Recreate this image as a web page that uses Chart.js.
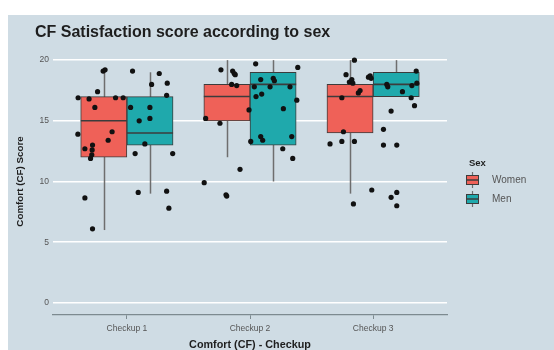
<!DOCTYPE html>
<html>
<head>
<meta charset="utf-8">
<script src="https://cdn.jsdelivr.net/npm/chart.js@4/dist/chart.umd.min.js"></script>
<style>
  html, body { margin: 0; padding: 0; background: #ffffff; }
  canvas { display: block; }
</style>
</head>
<body>
<canvas id="chart" width="554" height="350"></canvas>
<script>
const checkups = ['Checkup 1', 'Checkup 2', 'Checkup 3'];
const sexes = ['Women', 'Men'];
const yTicks = [0, 5, 10, 15, 20];

// Five-number summaries per checkup: [lower whisker, Q1, median, Q3, upper whisker]
const womenBoxes = [[6, 12, 15, 17, 19], [12, 15, 17, 18, 20], [9, 14, 17, 18, 20]];
const menBoxes   = [[9, 13, 14, 17, 19], [10, 13, 18, 19, 20], [17, 17, 18, 19, 20]];

// Individual comfort scores per checkup
const womenScores = [
  [19.1, 19.2, 17.4, 16.9, 16.8, 16.9, 16.9, 16.1, 13.9, 14.1, 13.4, 12.7, 13.0, 12.6, 12.2, 11.9, 8.65, 6.1],
  [19.2, 19.1, 18.9, 18.8, 18.0, 17.9, 15.9, 15.2, 14.8, 11.0, 9.9, 8.9, 8.8],
  [20.0, 18.8, 18.2, 18.4, 18.1, 16.9, 17.3, 17.5, 14.1, 13.1, 13.3, 13.3, 8.15, 9.3]
];
// Horizontal jitter of each score from its checkup centre (category units)
const womenJitter = [
  [-0.193, -0.177, -0.238, -0.396, -0.307, -0.092, -0.030, -0.260, -0.398, -0.120, -0.152, -0.341, -0.279, -0.282, -0.285, -0.295, -0.341, -0.279],
  [-0.236, -0.141, -0.128, -0.120, -0.149, -0.108, -0.008, -0.360, -0.244, -0.081, -0.372, -0.195, -0.189],
  [-0.152, -0.220, -0.193, -0.173, -0.165, -0.254, -0.120, -0.106, -0.241, -0.350, -0.254, -0.152, -0.160, -0.011]
];

const menScores = [
  [19.1, 18.9, 18.0, 18.1, 17.1, 16.1, 16.1, 15.2, 15.0, 13.1, 12.3, 12.3, 9.1, 9.2, 7.8],
  [19.7, 19.4, 18.4, 18.5, 18.3, 17.8, 17.8, 17.8, 17.2, 17.0, 16.7, 16.0, 13.7, 13.4, 13.3, 13.7, 12.7, 11.9],
  [18.6, 18.7, 18.5, 18.0, 17.8, 19.1, 17.9, 18.1, 17.4, 16.9, 16.25, 15.8, 14.3, 13.0, 13.0, 8.7, 9.1, 8.0]
];
const menJitter = [
  [0.046, 0.263, 0.201, 0.328, 0.323, 0.030, 0.187, 0.187, 0.100, 0.146, 0.067, 0.372, 0.092, 0.323, 0.341],
  [0.046, 0.388, 0.087, 0.189, 0.198, 0.035, 0.163, 0.325, 0.095, 0.049, 0.380, 0.271, 0.087, 0.103, 0.006, 0.339, 0.266, 0.347],
  [-0.038, -0.024, -0.016, 0.111, 0.119, 0.350, 0.315, 0.355, 0.238, 0.309, 0.336, 0.146, 0.084, 0.084, 0.192, 0.146, 0.192, 0.192]
];

const FONT = "'Liberation Sans', Arial, sans-serif";
const PANEL = '#cfdce4';
const WOMEN_FILL = '#ef6158';
const MEN_FILL = '#1fa9ac';
const OUTLINE = '#3c3c3c';
const WHISKER = '#6e6e6e';
const DODGE = 0.1875;   // half of the 0.75 dodge width

const allBoxes = [womenBoxes, menBoxes];
const shifts = [-DODGE, DODGE];

function boxData(boxes, shift) {
  return boxes.map((b, i) => ({ x: i + 1 + shift, y: [b[1], b[3]] }));
}
function pointData(scores, jitter) {
  const out = [];
  scores.forEach((vals, i) => vals.forEach((v, j) => out.push({ x: i + 1 + jitter[i][j], y: v })));
  return out;
}

const backdrop = {
  id: 'backdrop',
  beforeDraw(chart) {
    const { ctx, width, height } = chart;
    ctx.save();
    ctx.fillStyle = '#ffffff';
    ctx.fillRect(0, 0, width, height);
    ctx.fillStyle = PANEL;
    ctx.fillRect(8, 15, width - 8, height - 15);
    ctx.restore();
  }
};

const boxParts = {
  id: 'boxParts',
  beforeDatasetsDraw(chart) {
    const { ctx, scales: { x, y } } = chart;
    ctx.save();
    ctx.strokeStyle = WHISKER;
    ctx.lineWidth = 1.5;
    allBoxes.forEach((boxes, s) => {
      boxes.forEach((b, i) => {
        const px = Math.round(x.getPixelForValue(i + 1 + shifts[s])) + 0.5;
        ctx.beginPath();
        ctx.moveTo(px, y.getPixelForValue(b[0]));
        ctx.lineTo(px, y.getPixelForValue(b[4]));
        ctx.stroke();
      });
    });
    ctx.restore();
  },
  afterDatasetDraw(chart, args) {
    if (args.index > 1) return;
    const { ctx, scales: { y } } = chart;
    const boxes = allBoxes[args.index];
    ctx.save();
    ctx.strokeStyle = OUTLINE;
    ctx.lineWidth = 1.6;
    args.meta.data.forEach((bar, i) => {
      const py = y.getPixelForValue(boxes[i][2]);
      ctx.beginPath();
      ctx.moveTo(bar.x - bar.width / 2, py);
      ctx.lineTo(bar.x + bar.width / 2, py);
      ctx.stroke();
    });
    ctx.restore();
  }
};

const titleAndLegend = {
  id: 'titleAndLegend',
  afterDraw(chart) {
    const { ctx } = chart;
    ctx.save();
    ctx.fillStyle = '#1e1e1e';
    ctx.font = 'bold 16px ' + FONT;
    ctx.textBaseline = 'middle';
    ctx.textAlign = 'left';
    ctx.fillText('CF Satisfaction score according to sex', 35, 33);

    ctx.font = 'bold 9.5px ' + FONT;
    ctx.fillText('Sex', 469, 163);

    const fills = [chart.data.datasets[0].backgroundColor, chart.data.datasets[1].backgroundColor];
    sexes.forEach((name, k) => {
      const cy = 180 + k * 19;
      const left = 466, w = 13;
      ctx.strokeStyle = WHISKER;
      ctx.lineWidth = 1.2;
      ctx.beginPath();
      ctx.moveTo(left + w / 2, cy - 8);
      ctx.lineTo(left + w / 2, cy + 8);
      ctx.stroke();
      ctx.fillStyle = fills[k];
      ctx.fillRect(left, cy - 5, w, 10);
      ctx.strokeStyle = OUTLINE;
      ctx.lineWidth = 1;
      ctx.strokeRect(left + 0.5, cy - 4.5, w - 1, 9);
      ctx.lineWidth = 1.5;
      ctx.beginPath();
      ctx.moveTo(left, cy);
      ctx.lineTo(left + w, cy);
      ctx.stroke();
      ctx.fillStyle = '#555555';
      ctx.font = '10px ' + FONT;
      ctx.fillText(name, 492, cy);
    });
    ctx.restore();
  }
};

new Chart(document.getElementById('chart'), {
  type: 'bar',
  data: {
    datasets: [
      {
        label: sexes[0], data: boxData(womenBoxes, -DODGE),
        backgroundColor: WOMEN_FILL, borderColor: OUTLINE, borderWidth: 1,
        borderSkipped: false, grouped: false, barPercentage: 1, categoryPercentage: 1, order: 2
      },
      {
        label: sexes[1], data: boxData(menBoxes, DODGE),
        backgroundColor: MEN_FILL, borderColor: OUTLINE, borderWidth: 1,
        borderSkipped: false, grouped: false, barPercentage: 1, categoryPercentage: 1, order: 2
      },
      {
        type: 'scatter', label: sexes[0] + ' scores', data: pointData(womenScores, womenJitter),
        backgroundColor: '#111111', borderColor: '#111111', pointRadius: 2.6, borderWidth: 0, order: 1
      },
      {
        type: 'scatter', label: sexes[1] + ' scores', data: pointData(menScores, menJitter),
        backgroundColor: '#111111', borderColor: '#111111', pointRadius: 2.6, borderWidth: 0, order: 1
      }
    ]
  },
  options: {
    responsive: false,
    animation: false,
    devicePixelRatio: 1,
    layout: { padding: { left: 8, top: 48, right: 107, bottom: 0 } },
    plugins: { legend: { display: false }, tooltip: { enabled: false }, title: { display: false } },
    scales: {
      x: {
        type: 'linear', min: 0.4, max: 3.6, offset: false,
        afterFit(scale) { scale.height = 35; },
        afterBuildTicks(scale) { scale.ticks = checkups.map((c, i) => ({ value: i + 1 })); },
        ticks: {
          callback: (v) => checkups[Math.round(v) - 1] || '',
          color: '#555555', font: { family: FONT, size: 8.5 }, padding: 5, maxRotation: 0, autoSkip: false
        },
        grid: { display: true, drawOnChartArea: false, drawTicks: true, tickLength: 4, color: '#7d8a90', offset: false },
        border: { display: true, color: '#7d8a90', width: 1.3 },
        title: {
          display: true, text: 'Comfort (CF) - Checkup', color: '#1e1e1e',
          font: { family: FONT, size: 10.8, weight: 'bold', lineHeight: 1 }, padding: { top: 0, bottom: 0 }
        }
      },
      y: {
        type: 'linear', min: -1, max: 21,
        afterFit(scale) { scale.width = 45; },
        afterBuildTicks(scale) { scale.ticks = yTicks.map(v => ({ value: v })); },
        ticks: { color: '#555555', font: { family: FONT, size: 8.5 }, padding: 4 },
        grid: { color: '#ffffff', lineWidth: 1.6, drawTicks: false },
        border: { display: false },
        title: {
          display: true, text: 'Comfort (CF) Score', color: '#1e1e1e',
          font: { family: FONT, size: 9.8, weight: 'bold' }, padding: { top: 6, bottom: 0 }
        }
      }
    }
  },
  plugins: [backdrop, boxParts, titleAndLegend]
});
</script>
</body>
</html>
